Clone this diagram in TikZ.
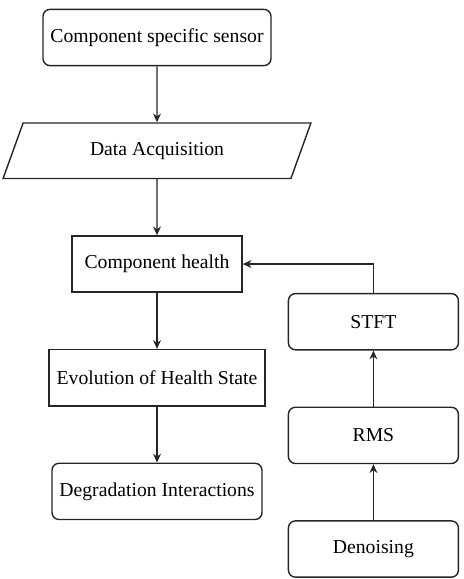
\documentclass[tikz,border=0pt]{standalone}
\usepackage{fontspec}
\setmainfont{Liberation Serif}
\usepackage{tikz}
\usetikzlibrary{positioning,shapes.geometric,arrows.meta}
\definecolor{ink}{HTML}{262626}

\begin{document}
\begin{tikzpicture}[every node/.style={font=\fontsize{11.2}{13}\selectfont},node distance=1.12cm,
      roundbox/.style={draw=ink,line width=.8pt,rounded corners=4pt,minimum height=1.125cm,align=center},
      plainbox/.style={draw=ink,line width=.8pt,minimum height=1.125cm,align=center},
      iobox/.style={draw=ink,line width=.8pt,trapezium,trapezium left angle=69.4,trapezium right angle=110.6,trapezium stretches=true,minimum width=6.22cm,minimum height=1.11cm},
      arrow/.style={-{Stealth[length=5pt,width=4.5pt]},line width=.8pt,ink}]
      \useasboundingbox (0,0) rectangle (9.26,-11.58);
      \node[roundbox,minimum width=4.56cm] (sensor) at (3.14,-.75) {Component specific sensor};
      \node[iobox,below=of sensor] (acq) {Data Acquisition};
      \node[plainbox,minimum width=3.4cm,below=of acq] (health) {Component health};
      \node[plainbox,minimum width=4.32cm,below=of health] (evol) {Evolution of Health State};
      \node[roundbox,minimum width=4.2cm,below=of evol] (degr) {Degradation Interactions};
      \node[roundbox,minimum width=3.4cm,below right=0cm and .9cm of health.south east] (stft) {STFT};
      \node[roundbox,minimum width=3.4cm,below=of stft] (rms) {RMS};
      \node[roundbox,minimum width=3.4cm,below=of rms] (denoise) {Denoising};
      \draw[arrow] (sensor)--(acq); \draw[arrow] (acq)--(health);
      \draw[arrow] (health)--(evol); \draw[arrow] (evol)--(degr);
      \draw[arrow] (denoise)--(rms); \draw[arrow] (rms)--(stft);
      \draw[arrow] (stft.north)|-(health.east);
    \end{tikzpicture}
\end{document}
